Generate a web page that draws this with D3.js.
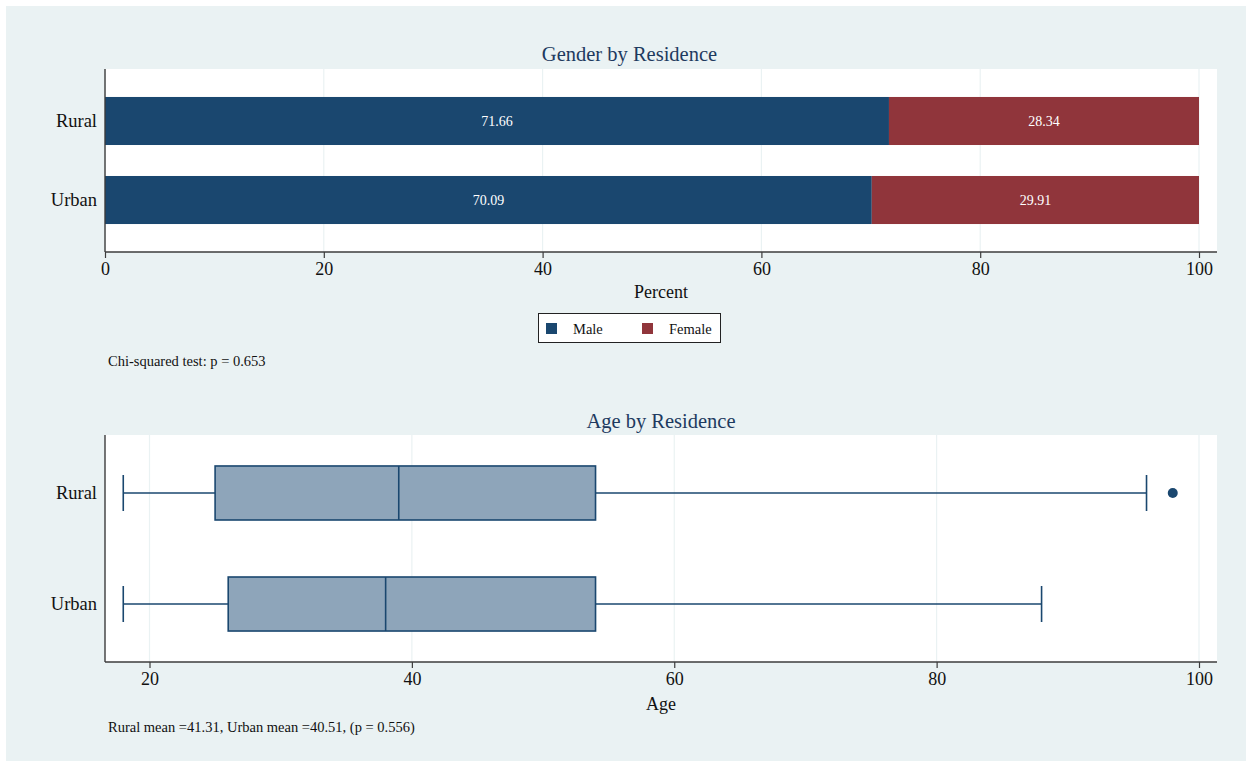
<!DOCTYPE html>
<html><head><meta charset="utf-8">
<script src="https://cdn.jsdelivr.net/npm/d3@7"></script>
<style>body{margin:0;background:#fff}svg{display:block}text{font-family:"Liberation Serif","Times New Roman",serif}</style>
</head><body>
<svg id="c" width="1252" height="767"></svg>
<script>
const categories = ["Rural", "Urban"];
const malePct = [71.66, 70.09];
const femalePct = [28.34, 29.91];
const percentTicks = [0, 20, 40, 60, 80, 100];
const ageMin = [18, 18];
const ageQ1 = [25, 26];
const ageMedian = [39, 38];
const ageQ3 = [54, 54];
const ageMax = [96, 88];
const ageOutliers = [[98], []];
const ageTicks = [20, 40, 60, 80, 100];
const legendLabels = ["Male", "Female"];

const navy = "#1a476f", maroon = "#90353b", bg = "#eaf2f3", grid = "#eaf2f3", axisCol = "#3c3c3c", titleCol = "#1e3a5f";
const svg = d3.select("#c");
svg.append("rect").attr("x", 6).attr("y", 6).attr("width", 1240).attr("height", 755).attr("fill", bg);

// ---- Top panel
const T = {l: 105, r: 1217, t: 69, b: 252};
svg.append("rect").attr("x", T.l).attr("y", T.t).attr("width", T.r - T.l).attr("height", T.b - T.t).attr("fill", "#fff");
const xP = d3.scaleLinear().domain([0, 100]).range([T.l, 1199]);
const yP = d3.scaleBand().domain(categories).range([T.t, T.b]).paddingInner(0.392).paddingOuter(0.354);
svg.append("g").selectAll("line").data(percentTicks).join("line")
  .attr("x1", d => xP(d)).attr("x2", d => xP(d)).attr("y1", T.t).attr("y2", T.b)
  .attr("stroke", grid).attr("stroke-width", 1.2);
const rows = categories.map((c, i) => ({c, m: malePct[i], f: femalePct[i]}));
const gb = svg.append("g");
gb.selectAll(".m").data(rows).join("rect").attr("x", xP(0)).attr("y", d => yP(d.c))
  .attr("width", d => xP(d.m) - xP(0)).attr("height", yP.bandwidth()).attr("fill", navy);
gb.selectAll(".f").data(rows).join("rect").attr("x", d => xP(d.m)).attr("y", d => yP(d.c))
  .attr("width", d => xP(d.m + d.f) - xP(d.m)).attr("height", yP.bandwidth()).attr("fill", maroon);
gb.selectAll(".ml").data(rows).join("text").attr("x", d => (xP(0) + xP(d.m)) / 2).attr("y", d => yP(d.c) + yP.bandwidth() / 2)
  .attr("dy", "0.35em").attr("text-anchor", "middle").attr("fill", "#fff").attr("font-size", 14).text(d => d.m.toFixed(2));
gb.selectAll(".fl").data(rows).join("text").attr("x", d => (xP(d.m) + xP(d.m + d.f)) / 2).attr("y", d => yP(d.c) + yP.bandwidth() / 2)
  .attr("dy", "0.35em").attr("text-anchor", "middle").attr("fill", "#fff").attr("font-size", 14).text(d => d.f.toFixed(2));
// axes
const ax1 = svg.append("g").attr("transform", `translate(0,${T.b})`)
  .call(d3.axisBottom(xP).tickValues(percentTicks).tickSize(6).tickPadding(4).tickSizeOuter(0));
ax1.select(".domain").remove();
ax1.append("line").attr("x1", T.l).attr("x2", T.r).attr("stroke", axisCol).attr("stroke-width", 1.4);
ax1.selectAll(".tick line").attr("stroke", axisCol).attr("stroke-width", 1.2);
ax1.selectAll(".tick text").attr("font-size", 18).attr("fill", "#111").attr("font-family", "Liberation Serif");
svg.append("line").attr("x1", T.l).attr("x2", T.l).attr("y1", T.t).attr("y2", T.b).attr("stroke", axisCol).attr("stroke-width", 1.4);
svg.append("g").selectAll("text").data(categories).join("text").attr("x", 97).attr("y", d => yP(d) + yP.bandwidth() / 2)
  .attr("dy", "0.35em").attr("text-anchor", "end").attr("font-size", 18.5).attr("fill", "#111").text(d => d);
svg.append("text").attr("x", 629.5).attr("y", 61).attr("text-anchor", "middle").attr("font-size", 20.5).attr("fill", titleCol).text("Gender by Residence");
svg.append("text").attr("x", 661).attr("y", 298).attr("text-anchor", "middle").attr("font-size", 18).attr("fill", "#111").text("Percent");
// legend
svg.append("rect").attr("x", 538.5).attr("y", 313.5).attr("width", 182).attr("height", 29).attr("fill", "#fff").attr("stroke", "#222").attr("stroke-width", 1);
const lg = svg.append("g").selectAll("g").data(legendLabels).join("g").attr("transform", (d, i) => `translate(${546 + i * 96},323)`);
lg.append("rect").attr("width", 11).attr("height", 11).attr("fill", (d, i) => i ? maroon : navy);
lg.append("text").attr("x", 27).attr("y", 6).attr("dy", "0.35em").attr("font-size", 14.5).attr("fill", "#111").text(d => d);
svg.append("text").attr("x", 108).attr("y", 366).attr("font-size", 14.5).attr("fill", "#111").text("Chi-squared test: p = 0.653");

// ---- Bottom panel
const B = {l: 105, r: 1217, t: 435, b: 662};
svg.append("rect").attr("x", B.l).attr("y", B.t).attr("width", B.r - B.l).attr("height", B.b - B.t).attr("fill", "#fff");
const xA = d3.scaleLinear().domain([20, 100]).range([149.5, 1199]);
const yA = d3.scaleBand().domain(categories).range([B.t, B.b]).paddingInner(0.5135).paddingOuter(0.279);
svg.append("g").selectAll("line").data(ageTicks).join("line")
  .attr("x1", d => xA(d)).attr("x2", d => xA(d)).attr("y1", B.t).attr("y2", B.b)
  .attr("stroke", grid).attr("stroke-width", 1.2);
const boxes = categories.map((c, i) => ({c, lo: ageMin[i], q1: ageQ1[i], med: ageMedian[i], q3: ageQ3[i], hi: ageMax[i], out: ageOutliers[i]}));
const bx = svg.append("g").selectAll("g").data(boxes).join("g");
const bw = yA.bandwidth();
const capH = 36;
bx.append("line").attr("x1", d => xA(d.lo)).attr("x2", d => xA(d.q1)).attr("y1", d => yA(d.c) + bw / 2).attr("y2", d => yA(d.c) + bw / 2).attr("stroke", navy).attr("stroke-width", 1.6);
bx.append("line").attr("x1", d => xA(d.q3)).attr("x2", d => xA(d.hi)).attr("y1", d => yA(d.c) + bw / 2).attr("y2", d => yA(d.c) + bw / 2).attr("stroke", navy).attr("stroke-width", 1.6);
bx.append("line").attr("x1", d => xA(d.lo)).attr("x2", d => xA(d.lo)).attr("y1", d => yA(d.c) + bw / 2 - capH / 2).attr("y2", d => yA(d.c) + bw / 2 + capH / 2).attr("stroke", navy).attr("stroke-width", 1.6);
bx.append("line").attr("x1", d => xA(d.hi)).attr("x2", d => xA(d.hi)).attr("y1", d => yA(d.c) + bw / 2 - capH / 2).attr("y2", d => yA(d.c) + bw / 2 + capH / 2).attr("stroke", navy).attr("stroke-width", 1.6);
bx.append("rect").attr("x", d => xA(d.q1)).attr("y", d => yA(d.c)).attr("width", d => xA(d.q3) - xA(d.q1)).attr("height", bw)
  .attr("fill", "#8ea5ba").attr("stroke", navy).attr("stroke-width", 1.6);
bx.append("line").attr("x1", d => xA(d.med)).attr("x2", d => xA(d.med)).attr("y1", d => yA(d.c)).attr("y2", d => yA(d.c) + bw).attr("stroke", navy).attr("stroke-width", 1.6);
bx.selectAll("circle").data(d => d.out.map(v => ({v, c: d.c}))).join("circle")
  .attr("cx", d => xA(d.v)).attr("cy", d => yA(d.c) + bw / 2).attr("r", 5).attr("fill", navy);
const ax2 = svg.append("g").attr("transform", `translate(0,${B.b})`)
  .call(d3.axisBottom(xA).tickValues(ageTicks).tickSize(6).tickPadding(4).tickSizeOuter(0));
ax2.select(".domain").remove();
ax2.append("line").attr("x1", B.l).attr("x2", B.r).attr("stroke", axisCol).attr("stroke-width", 1.4);
ax2.selectAll(".tick line").attr("stroke", axisCol).attr("stroke-width", 1.2);
ax2.selectAll(".tick text").attr("font-size", 18).attr("fill", "#111").attr("font-family", "Liberation Serif");
svg.append("line").attr("x1", B.l).attr("x2", B.l).attr("y1", B.t).attr("y2", B.b).attr("stroke", axisCol).attr("stroke-width", 1.4);
svg.append("g").selectAll("text").data(categories).join("text").attr("x", 97).attr("y", d => yA(d) + bw / 2)
  .attr("dy", "0.35em").attr("text-anchor", "end").attr("font-size", 18.5).attr("fill", "#111").text(d => d);
svg.append("text").attr("x", 661).attr("y", 428).attr("text-anchor", "middle").attr("font-size", 20.5).attr("fill", titleCol).text("Age by Residence");
svg.append("text").attr("x", 661).attr("y", 710).attr("text-anchor", "middle").attr("font-size", 18).attr("fill", "#111").text("Age");
svg.append("text").attr("x", 108).attr("y", 732).attr("font-size", 14.5).attr("fill", "#111").text("Rural mean =41.31, Urban mean =40.51, (p = 0.556)");
</script>
</body></html>
